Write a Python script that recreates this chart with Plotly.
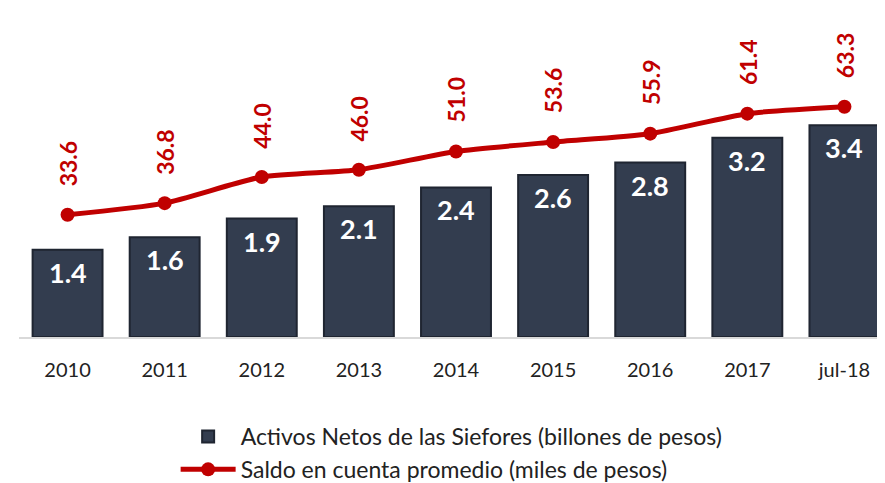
import plotly.graph_objects as go

categories = ["2010", "2011", "2012", "2013", "2014", "2015", "2016", "2017", "jul-18"]
activos = [1.4, 1.6, 1.9, 2.1, 2.4, 2.6, 2.8, 3.2, 3.4]
saldo = [33.6, 36.8, 44.0, 46.0, 51.0, 53.6, 55.9, 61.4, 63.3]

FONT = "Lato"
RED = "#C00000"
BAR = "#333D4F"

fig = go.Figure()
fig.add_trace(go.Bar(
    x=categories, y=activos, name="Activos Netos de las Siefores (billones de pesos)",
    marker=dict(color=BAR, line=dict(color="#1F2531", width=2)),
    width=0.72,
))
fig.add_trace(go.Scatter(
    x=categories, y=saldo, name="Saldo en cuenta promedio (miles de pesos)",
    mode="lines+markers", yaxis="y2",
    line=dict(color=RED, width=5, shape="spline", smoothing=0.6),
    marker=dict(color=RED, size=14),
))
# category axis: annotation positions given as category index
for i, v in enumerate(activos):
    fig.add_annotation(x=i, y=v, xref="x", yref="y", text=f"{v:.1f}",
                       showarrow=False, yanchor="top", yshift=-4,
                       font=dict(color="white", size=27, family=FONT, weight="bold"))
for i, v in enumerate(saldo):
    fig.add_annotation(x=i, y=v, xref="x", yref="y2", text=f"{v:.1f}", textangle=-90,
                       showarrow=False, yshift=51,
                       font=dict(color=RED, size=23, family=FONT, weight="bold"))

fig.update_layout(
    width=885, height=483,
    margin=dict(l=11, r=0, t=10, b=145),
    paper_bgcolor="white", plot_bgcolor="white",
    font=dict(family=FONT, color="#222222"),
    bargap=0.28,
    xaxis=dict(type="category", range=[-0.5, len(categories) - 0.5], automargin=False,
               showline=True, linecolor="#D9D9D9", linewidth=2, ticks="",
               ticklabelstandoff=14,
               tickfont=dict(size=20, color="#222222"), showgrid=False),
    yaxis=dict(range=[0, 5.12], visible=False, showgrid=False, automargin=False),
    yaxis2=dict(range=[0, 87.7], overlaying="y", visible=False, showgrid=False, automargin=False),
    legend=dict(orientation="v", x=0.495, xanchor="center", y=-0.245, yanchor="top",
                font=dict(size=23, color="#222222"), tracegroupgap=0, itemwidth=55),
    showlegend=True,
)
fig.write_html("out.html")
